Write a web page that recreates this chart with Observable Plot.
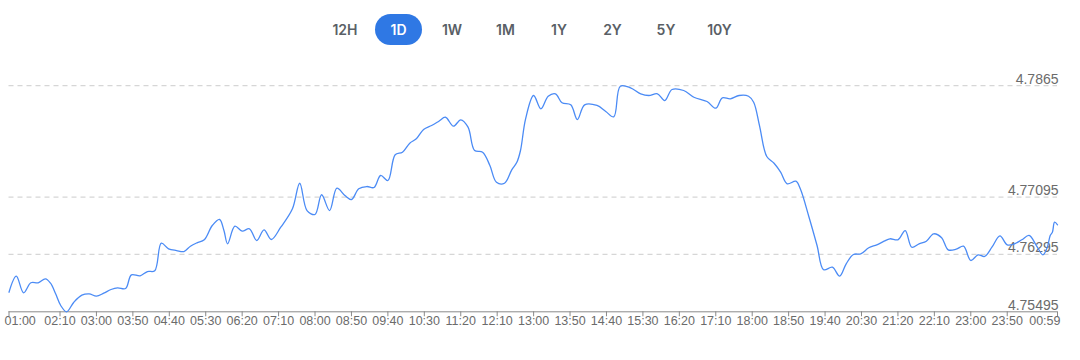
<!DOCTYPE html>
<html>
<head>
<meta charset="utf-8">
<script src="https://cdn.jsdelivr.net/npm/d3@7"></script>
<script src="https://cdn.jsdelivr.net/npm/@observablehq/plot@0.6"></script>
<style>
  html, body { margin: 0; padding: 0; background: #fff; }
  body { width: 1080px; height: 360px; overflow: hidden; font-family: "Liberation Sans", Arial, sans-serif; }
  #bar { position: relative; height: 58px; }
  .btn { position: absolute; top: 14px; width: 47px; height: 31px; line-height: 31px; text-align: center;
         font-size: 14px; font-weight: 600; color: #5a5f66; border-radius: 16px; font-family: Inter, "Liberation Sans", sans-serif; }
  .btn.active { background: #2f78e4; color: #fff; }
  #chart svg { display: block; }
</style>
</head>
<body>
<div id="bar"></div>
<div id="chart"></div>
<script>
// Range buttons
const ranges = ["12H", "1D", "1W", "1M", "1Y", "2Y", "5Y", "10Y"];
const activeRange = "1D";

// Series (time of day, value)
const times = [
  "01:00","01:10","01:20","01:30","01:40","01:50","01:57","02:04","02:11","02:19",
  "02:29","02:40","02:50","03:00","03:10","03:20","03:29","03:40","03:48","04:00",
  "04:10","04:20","04:29","04:39","04:50","05:00","05:09","05:18","05:28","05:39",
  "05:49","05:55","06:00","06:10","06:20","06:30","06:40","06:50","07:00","07:13",
  "07:29","07:39","07:49","08:00","08:09","08:20","08:30","08:41","08:50","09:00",
  "09:11","09:21","09:30","09:40","09:50","10:00","10:10","10:19","10:29","10:40",
  "10:50","10:59","11:10","11:20","11:30","11:39","11:50","12:00","12:09","12:20",
  "12:30","12:37","12:42","12:49","13:00","13:10","13:20","13:30","13:39","13:51",
  "14:00","14:10","14:27","14:39","14:50","14:59","15:13","15:27","15:38","15:50",
  "16:00","16:10","16:26","16:40","16:58","17:10","17:19","17:30","17:42","17:55",
  "18:02","18:10","18:20","18:30","18:39","18:48","19:00","19:06","19:18","19:29",
  "19:38","19:50","20:00","20:09","20:19","20:29","20:40","20:51","21:01","21:09",
  "21:20","21:30","21:39","21:49","21:59","22:09","22:20","22:29","22:40","22:50",
  "23:00","23:10","23:19","23:29","23:40","23:50","00:00","00:10","00:20","00:30",
  "00:39","00:45","00:49","00:52","00:55","00:59"
];
const values = [
  4.75768,4.75992,4.75760,4.75900,4.75900,4.75955,4.75894,4.75746,4.75583,4.75495,
  4.75629,4.75727,4.75746,4.75713,4.75755,4.75806,4.75830,4.75820,4.76011,4.75997,
  4.76057,4.76067,4.76452,4.76374,4.76350,4.76336,4.76410,4.76458,4.76500,4.76699,
  4.76783,4.76629,4.76444,4.76689,4.76620,4.76653,4.76490,4.76639,4.76504,4.76675,
  4.76932,4.77289,4.76908,4.76853,4.77128,4.76908,4.77220,4.77118,4.77062,4.77211,
  4.77243,4.77229,4.77397,4.77327,4.77686,4.77722,4.77848,4.77909,4.78039,4.78094,
  4.78154,4.78210,4.78085,4.78174,4.78071,4.77746,4.77722,4.77536,4.77303,4.77289,
  4.77476,4.77582,4.77746,4.78188,4.78513,4.78328,4.78503,4.78537,4.78411,4.78383,
  4.78178,4.78383,4.78374,4.78290,4.78216,4.78643,4.78621,4.78537,4.78513,4.78537,
  4.78443,4.78597,4.78583,4.78489,4.78429,4.78336,4.78481,4.78467,4.78513,4.78503,
  4.78420,4.78094,4.77662,4.77568,4.77443,4.77281,4.77317,4.77211,4.76815,4.76420,
  4.76081,4.76117,4.75992,4.76165,4.76295,4.76304,4.76388,4.76430,4.76480,4.76514,
  4.76500,4.76629,4.76396,4.76444,4.76480,4.76583,4.76528,4.76360,4.76369,4.76410,
  4.76211,4.76290,4.76267,4.76396,4.76555,4.76430,4.76444,4.76500,4.76560,4.76420,
  4.76290,4.76396,4.76560,4.76606,4.76745,4.76709
];

// Axis ticks
const xTickLabels = ["01:00","02:10","03:00","03:50","04:40","05:30","06:20","07:10","08:00","08:50",
  "09:40","10:30","11:20","12:10","13:00","13:50","14:40","15:30","16:20","17:10","18:00","18:50",
  "19:40","20:30","21:20","22:10","23:00","23:50","00:59"];
const yTickValues = [4.75495, 4.76295, 4.77095, 4.7865];
const yTickLabels = ["4.75495", "4.76295", "4.77095", "4.7865"];

// helpers
function toDate(s) {
  const [h, m] = s.split(":").map(Number);
  return new Date(Date.UTC(2024, 0, h < 1 ? 2 : 1, h, m));
}
const data = times.map((t, i) => ({date: toDate(t), value: values[i]}));
const xTicks = xTickLabels.map(toDate);
const tickRows = xTickLabels.map((l, i) => ({date: xTicks[i], label: l}));
const yRows = yTickValues.map((v, i) => ({value: v, label: yTickLabels[i]}));

// buttons
const bar = document.getElementById("bar");
ranges.forEach((r, i) => {
  const b = document.createElement("div");
  b.className = "btn" + (r === activeRange ? " active" : "");
  b.textContent = r;
  b.style.left = (321.5 + i * 53.5) + "px";
  bar.appendChild(b);
});

const font = "'Liberation Sans', Arial, sans-serif";
const chart = Plot.plot({
  width: 1080,
  height: 302,
  marginLeft: 8.5,
  marginRight: 23,
  marginTop: 27.2,
  marginBottom: 48.7,
  style: {fontFamily: font, background: "#fff"},
  x: {type: "utc", domain: [toDate("01:00"), toDate("00:59")], axis: null},
  y: {domain: [4.75495, 4.7865], axis: null},
  marks: [
    Plot.ruleY(yRows.slice(1), {y: "value", stroke: "#d6d6d6", strokeWidth: 1.2, strokeDasharray: "5,4"}),
    Plot.text(yRows, {y: "value", text: "label", frameAnchor: "right", textAnchor: "end", lineAnchor: "bottom",
      dy: -2, dx: 1, fontSize: 14, fill: "#6b6b6b"}),
    Plot.axisX({ticks: xTicks, tickSize: 5, tickFormat: () => "", stroke: "#8a8a8a"}),
    Plot.ruleY([4.75495], {stroke: "#8a8a8a", strokeWidth: 1}),
    Plot.text(tickRows.slice(1, -1), {x: "date", text: "label", frameAnchor: "bottom", dy: 13, fontSize: 12.5, fill: "#6b6b6b"}),
    Plot.text(tickRows.slice(0, 1), {x: "date", text: "label", frameAnchor: "bottom", dy: 13, dx: -4.5, textAnchor: "start", fontSize: 12.5, fill: "#6b6b6b"}),
    Plot.text(tickRows.slice(-1), {x: "date", text: "label", frameAnchor: "bottom", dy: 13, dx: 3, textAnchor: "end", fontSize: 12.5, fill: "#6b6b6b"}),
    Plot.line(data, {x: "date", y: "value", stroke: "#4b8bf5", strokeWidth: 1.3, curve: "catmull-rom"})
  ]
});
document.getElementById("chart").appendChild(chart);
</script>
</body>
</html>
